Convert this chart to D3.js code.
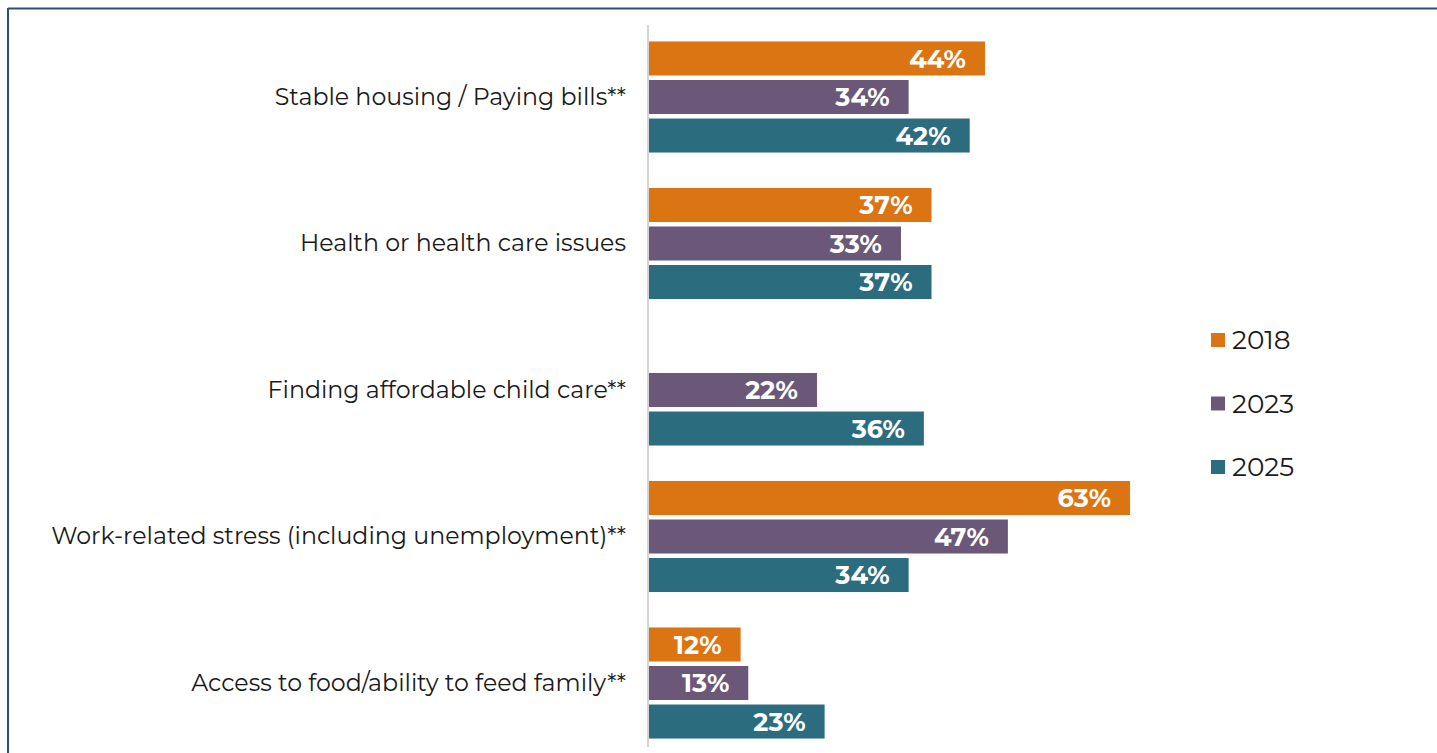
<!DOCTYPE html>
<html>
<head>
<meta charset="utf-8">
<script src="https://cdn.jsdelivr.net/npm/d3@7"></script>
<style>
  html, body { margin: 0; padding: 0; background: #fff; }
  svg { display: block; }
</style>
</head>
<body>
<svg id="chart" width="1437" height="753"></svg>
<script>
// Survey categories, top to bottom
const categories = [
  "Stable housing / Paying bills**",
  "Health or health care issues",
  "Finding affordable child care**",
  "Work-related stress (including unemployment)**",
  "Access to food/ability to feed family**"
];
const years = ["2018", "2023", "2025"];
// Percent of respondents, one array per year (null = not asked)
const values2018 = [44, 37, null, 63, 12];
const values2023 = [34, 33, 22, 47, 13];
const values2025 = [42, 37, 36, 34, 23];
const colors = ["#DB7412", "#6B5878", "#2C6C7F"];

const seriesByYear = [values2018, values2023, values2025];
const rows = categories.flatMap((c, i) =>
  years.map((yr, j) => ({ category: c, year: yr, value: seriesByYear[j][i] }))
).filter(d => d.value != null);

const svg = d3.select("#chart");
const labelFont = "Montserrat, 'DejaVu Sans', sans-serif";

// frame
svg.append("line").attr("x1", 8).attr("x2", 1437).attr("y1", 8.5).attr("y2", 8.5)
  .attr("stroke", "#2F4F78").attr("stroke-width", 2);
svg.append("line").attr("x1", 8).attr("x2", 8).attr("y1", 8).attr("y2", 753)
  .attr("stroke", "#2F4F78").attr("stroke-width", 2);

const x = d3.scaleLinear().domain([0, 70]).range([649, 649 + 534.5]);
const y0 = d3.scaleBand().domain(categories).range([23.75, 756.25]);
const y1 = d3.scaleBand().domain(years).range([0, y0.bandwidth()])
  .paddingInner(0.117).paddingOuter(0.46);
const color = d3.scaleOrdinal().domain(years).range(colors);

// bars
const g = svg.append("g");
g.selectAll("rect").data(rows).join("rect")
  .attr("x", x(0))
  .attr("y", d => y0(d.category) + y1(d.year))
  .attr("width", d => x(d.value) - x(0))
  .attr("height", y1.bandwidth())
  .attr("fill", d => color(d.year));

// value labels
g.selectAll("text.val").data(rows).join("text")
  .attr("class", "val")
  .attr("x", d => x(d.value) - 19)
  .attr("y", d => y0(d.category) + y1(d.year) + y1.bandwidth() / 2)
  .attr("dy", "0.36em")
  .attr("text-anchor", "end")
  .attr("fill", "#fff")
  .attr("font-family", labelFont)
  .attr("font-weight", 700)
  .attr("font-size", 25.5)
  .text(d => d.value + "%");

// category axis
const axis = d3.axisLeft(y0).tickSize(0).tickPadding(22);
const ax = svg.append("g").attr("transform", `translate(${x(0) - 1},0)`).call(axis);
ax.select(".domain").remove();
ax.append("line").attr("x1", 0).attr("x2", 0).attr("y1", 25).attr("y2", 747)
  .attr("stroke", "#D4D4D4").attr("stroke-width", 2);
ax.selectAll(".tick text")
  .attr("font-family", labelFont)
  .attr("font-size", 23.7)
  .attr("fill", "#1a1a1a");

// legend
const legend = svg.append("g").attr("transform", "translate(1211,340)");
const li = legend.selectAll("g").data(years).join("g")
  .attr("transform", (d, i) => `translate(0,${i * 63.5})`);
li.append("rect").attr("x", 0).attr("y", -7).attr("width", 14).attr("height", 14)
  .attr("fill", d => color(d));
li.append("text").attr("x", 21).attr("dy", "0.36em")
  .attr("font-family", labelFont).attr("font-size", 26.3).attr("fill", "#1a1a1a")
  .text(d => d);
</script>
</body>
</html>
